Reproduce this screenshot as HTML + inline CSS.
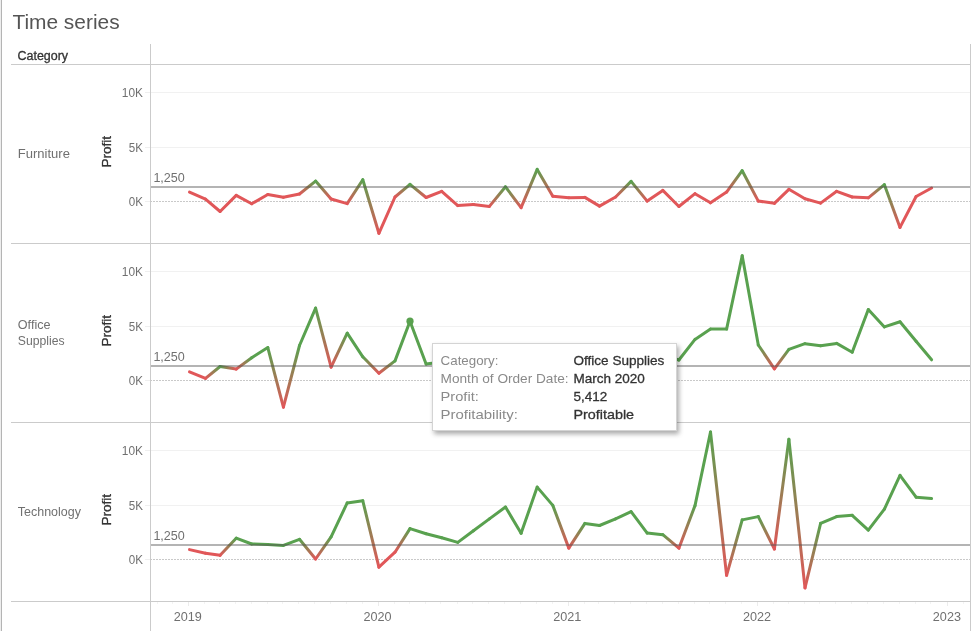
<!DOCTYPE html>
<html lang="en"><head><meta charset="utf-8"><title>Time series</title>
<style>html,body{margin:0;padding:0;background:#fff}body{width:973px;height:631px;position:relative;overflow:hidden}</style>
</head><body>
<svg width="973" height="631" viewBox="0 0 973 631" style="position:absolute;left:0;top:0;will-change:transform"><defs><linearGradient id="g1" gradientUnits="userSpaceOnUse" x1="299.5" y1="194.0" x2="315.6" y2="181.1"><stop offset="0" stop-color="#e15759"/><stop offset="1" stop-color="#59a14f"/></linearGradient><linearGradient id="g2" gradientUnits="userSpaceOnUse" x1="315.6" y1="181.1" x2="331.1" y2="199.0"><stop offset="0" stop-color="#59a14f"/><stop offset="1" stop-color="#e15759"/></linearGradient><linearGradient id="g3" gradientUnits="userSpaceOnUse" x1="347.2" y1="203.6" x2="362.8" y2="179.7"><stop offset="0" stop-color="#e15759"/><stop offset="1" stop-color="#59a14f"/></linearGradient><linearGradient id="g4" gradientUnits="userSpaceOnUse" x1="362.8" y1="179.7" x2="378.9" y2="233.3"><stop offset="0" stop-color="#59a14f"/><stop offset="1" stop-color="#e15759"/></linearGradient><linearGradient id="g5" gradientUnits="userSpaceOnUse" x1="395.0" y1="197.0" x2="410.0" y2="184.3"><stop offset="0" stop-color="#e15759"/><stop offset="1" stop-color="#59a14f"/></linearGradient><linearGradient id="g6" gradientUnits="userSpaceOnUse" x1="410.0" y1="184.3" x2="426.1" y2="197.5"><stop offset="0" stop-color="#59a14f"/><stop offset="1" stop-color="#e15759"/></linearGradient><linearGradient id="g7" gradientUnits="userSpaceOnUse" x1="489.4" y1="206.4" x2="505.5" y2="186.8"><stop offset="0" stop-color="#e15759"/><stop offset="1" stop-color="#59a14f"/></linearGradient><linearGradient id="g8" gradientUnits="userSpaceOnUse" x1="505.5" y1="186.8" x2="521.1" y2="207.7"><stop offset="0" stop-color="#59a14f"/><stop offset="1" stop-color="#e15759"/></linearGradient><linearGradient id="g9" gradientUnits="userSpaceOnUse" x1="521.1" y1="207.7" x2="537.2" y2="169.4"><stop offset="0" stop-color="#e15759"/><stop offset="1" stop-color="#59a14f"/></linearGradient><linearGradient id="g10" gradientUnits="userSpaceOnUse" x1="537.2" y1="169.4" x2="552.8" y2="196.2"><stop offset="0" stop-color="#59a14f"/><stop offset="1" stop-color="#e15759"/></linearGradient><linearGradient id="g11" gradientUnits="userSpaceOnUse" x1="615.6" y1="197.0" x2="631.1" y2="181.4"><stop offset="0" stop-color="#e15759"/><stop offset="1" stop-color="#59a14f"/></linearGradient><linearGradient id="g12" gradientUnits="userSpaceOnUse" x1="631.1" y1="181.4" x2="647.2" y2="201.1"><stop offset="0" stop-color="#59a14f"/><stop offset="1" stop-color="#e15759"/></linearGradient><linearGradient id="g13" gradientUnits="userSpaceOnUse" x1="726.6" y1="192.1" x2="742.2" y2="170.7"><stop offset="0" stop-color="#e15759"/><stop offset="1" stop-color="#59a14f"/></linearGradient><linearGradient id="g14" gradientUnits="userSpaceOnUse" x1="742.2" y1="170.7" x2="758.3" y2="201.1"><stop offset="0" stop-color="#59a14f"/><stop offset="1" stop-color="#e15759"/></linearGradient><linearGradient id="g15" gradientUnits="userSpaceOnUse" x1="868.3" y1="197.8" x2="884.4" y2="184.7"><stop offset="0" stop-color="#e15759"/><stop offset="1" stop-color="#59a14f"/></linearGradient><linearGradient id="g16" gradientUnits="userSpaceOnUse" x1="884.4" y1="184.7" x2="900.0" y2="227.4"><stop offset="0" stop-color="#59a14f"/><stop offset="1" stop-color="#e15759"/></linearGradient><linearGradient id="g17" gradientUnits="userSpaceOnUse" x1="205.5" y1="378.4" x2="220.1" y2="366.5"><stop offset="0" stop-color="#e15759"/><stop offset="1" stop-color="#59a14f"/></linearGradient><linearGradient id="g18" gradientUnits="userSpaceOnUse" x1="220.1" y1="366.5" x2="236.2" y2="369.1"><stop offset="0" stop-color="#59a14f"/><stop offset="1" stop-color="#e15759"/></linearGradient><linearGradient id="g19" gradientUnits="userSpaceOnUse" x1="236.2" y1="369.1" x2="251.7" y2="357.8"><stop offset="0" stop-color="#e15759"/><stop offset="1" stop-color="#59a14f"/></linearGradient><linearGradient id="g20" gradientUnits="userSpaceOnUse" x1="267.8" y1="347.6" x2="283.4" y2="407.2"><stop offset="0" stop-color="#59a14f"/><stop offset="1" stop-color="#e15759"/></linearGradient><linearGradient id="g21" gradientUnits="userSpaceOnUse" x1="283.4" y1="407.2" x2="299.5" y2="345.5"><stop offset="0" stop-color="#e15759"/><stop offset="1" stop-color="#59a14f"/></linearGradient><linearGradient id="g22" gradientUnits="userSpaceOnUse" x1="315.6" y1="308.1" x2="331.1" y2="367.1"><stop offset="0" stop-color="#59a14f"/><stop offset="1" stop-color="#e15759"/></linearGradient><linearGradient id="g23" gradientUnits="userSpaceOnUse" x1="331.1" y1="367.1" x2="347.2" y2="333.2"><stop offset="0" stop-color="#e15759"/><stop offset="1" stop-color="#59a14f"/></linearGradient><linearGradient id="g24" gradientUnits="userSpaceOnUse" x1="362.8" y1="356.8" x2="378.9" y2="373.2"><stop offset="0" stop-color="#59a14f"/><stop offset="1" stop-color="#e15759"/></linearGradient><linearGradient id="g25" gradientUnits="userSpaceOnUse" x1="378.9" y1="373.2" x2="395.0" y2="360.9"><stop offset="0" stop-color="#e15759"/><stop offset="1" stop-color="#59a14f"/></linearGradient><linearGradient id="g26" gradientUnits="userSpaceOnUse" x1="758.3" y1="345.0" x2="774.4" y2="368.8"><stop offset="0" stop-color="#59a14f"/><stop offset="1" stop-color="#e15759"/></linearGradient><linearGradient id="g27" gradientUnits="userSpaceOnUse" x1="774.4" y1="368.8" x2="788.9" y2="349.4"><stop offset="0" stop-color="#e15759"/><stop offset="1" stop-color="#59a14f"/></linearGradient><linearGradient id="g28" gradientUnits="userSpaceOnUse" x1="220.1" y1="555.3" x2="236.2" y2="538.2"><stop offset="0" stop-color="#e15759"/><stop offset="1" stop-color="#59a14f"/></linearGradient><linearGradient id="g29" gradientUnits="userSpaceOnUse" x1="299.5" y1="539.3" x2="315.6" y2="559.0"><stop offset="0" stop-color="#59a14f"/><stop offset="1" stop-color="#e15759"/></linearGradient><linearGradient id="g30" gradientUnits="userSpaceOnUse" x1="315.6" y1="559.0" x2="331.1" y2="536.8"><stop offset="0" stop-color="#e15759"/><stop offset="1" stop-color="#59a14f"/></linearGradient><linearGradient id="g31" gradientUnits="userSpaceOnUse" x1="362.8" y1="500.8" x2="378.9" y2="567.2"><stop offset="0" stop-color="#59a14f"/><stop offset="1" stop-color="#e15759"/></linearGradient><linearGradient id="g32" gradientUnits="userSpaceOnUse" x1="395.0" y1="552.2" x2="410.0" y2="528.6"><stop offset="0" stop-color="#e15759"/><stop offset="1" stop-color="#59a14f"/></linearGradient><linearGradient id="g33" gradientUnits="userSpaceOnUse" x1="552.8" y1="505.4" x2="568.8" y2="548.1"><stop offset="0" stop-color="#59a14f"/><stop offset="1" stop-color="#e15759"/></linearGradient><linearGradient id="g34" gradientUnits="userSpaceOnUse" x1="568.8" y1="548.1" x2="584.9" y2="523.4"><stop offset="0" stop-color="#e15759"/><stop offset="1" stop-color="#59a14f"/></linearGradient><linearGradient id="g35" gradientUnits="userSpaceOnUse" x1="662.8" y1="534.7" x2="678.9" y2="548.2"><stop offset="0" stop-color="#59a14f"/><stop offset="1" stop-color="#e15759"/></linearGradient><linearGradient id="g36" gradientUnits="userSpaceOnUse" x1="678.9" y1="548.2" x2="695.0" y2="505.6"><stop offset="0" stop-color="#e15759"/><stop offset="1" stop-color="#59a14f"/></linearGradient><linearGradient id="g37" gradientUnits="userSpaceOnUse" x1="710.5" y1="432.0" x2="726.6" y2="575.3"><stop offset="0" stop-color="#59a14f"/><stop offset="1" stop-color="#e15759"/></linearGradient><linearGradient id="g38" gradientUnits="userSpaceOnUse" x1="726.6" y1="575.3" x2="742.2" y2="519.9"><stop offset="0" stop-color="#e15759"/><stop offset="1" stop-color="#59a14f"/></linearGradient><linearGradient id="g39" gradientUnits="userSpaceOnUse" x1="758.3" y1="516.6" x2="774.4" y2="549.0"><stop offset="0" stop-color="#59a14f"/><stop offset="1" stop-color="#e15759"/></linearGradient><linearGradient id="g40" gradientUnits="userSpaceOnUse" x1="774.4" y1="549.0" x2="788.9" y2="439.3"><stop offset="0" stop-color="#e15759"/><stop offset="1" stop-color="#59a14f"/></linearGradient><linearGradient id="g41" gradientUnits="userSpaceOnUse" x1="788.9" y1="439.3" x2="805.0" y2="587.9"><stop offset="0" stop-color="#59a14f"/><stop offset="1" stop-color="#e15759"/></linearGradient><linearGradient id="g42" gradientUnits="userSpaceOnUse" x1="805.0" y1="587.9" x2="820.6" y2="523.4"><stop offset="0" stop-color="#e15759"/><stop offset="1" stop-color="#59a14f"/></linearGradient><filter id="sh" x="-10%" y="-10%" width="125%" height="130%"><feGaussianBlur in="SourceAlpha" stdDeviation="2.6"/><feOffset dx="1.5" dy="2.5"/><feComponentTransfer><feFuncA type="linear" slope="0.34"/></feComponentTransfer><feMerge><feMergeNode/><feMergeNode in="SourceGraphic"/></feMerge></filter></defs><g shape-rendering="crispEdges"><rect x="145" y="92" width="5" height="1" fill="#efefef"/><rect x="151" y="92" width="819" height="1" fill="#f1f1f1"/><rect x="145" y="147" width="5" height="1" fill="#efefef"/><rect x="151" y="147" width="819" height="1" fill="#f1f1f1"/><rect x="145" y="201" width="5" height="1" fill="#efefef"/><line x1="150" y1="201.5" x2="970" y2="201.5" stroke="#c9c9c9" stroke-width="1" stroke-dasharray="2 1"/><rect x="145" y="271" width="5" height="1" fill="#efefef"/><rect x="151" y="271" width="819" height="1" fill="#f1f1f1"/><rect x="145" y="326" width="5" height="1" fill="#efefef"/><rect x="151" y="326" width="819" height="1" fill="#f1f1f1"/><rect x="145" y="380" width="5" height="1" fill="#efefef"/><line x1="150" y1="380.5" x2="970" y2="380.5" stroke="#c9c9c9" stroke-width="1" stroke-dasharray="2 1"/><rect x="145" y="450" width="5" height="1" fill="#efefef"/><rect x="151" y="450" width="819" height="1" fill="#f1f1f1"/><rect x="145" y="505" width="5" height="1" fill="#efefef"/><rect x="151" y="505" width="819" height="1" fill="#f1f1f1"/><rect x="145" y="559" width="5" height="1" fill="#efefef"/><line x1="150" y1="559.5" x2="970" y2="559.5" stroke="#c9c9c9" stroke-width="1" stroke-dasharray="2 1"/><rect x="0" y="0" width="1" height="631" fill="#ededed"/><rect x="1" y="0" width="1" height="631" fill="#b4b4b4"/><rect x="150" y="44" width="1" height="587" fill="#cbcbcb"/><rect x="970" y="44" width="1" height="587" fill="#cbcbcb"/><rect x="11" y="64" width="959" height="1" fill="#cbcbcb"/><rect x="11" y="243" width="959" height="1" fill="#cbcbcb"/><rect x="11" y="422" width="959" height="1" fill="#cbcbcb"/><rect x="11" y="601" width="959" height="1" fill="#cbcbcb"/><rect x="157" y="602" width="1" height="2" fill="#f3f3f3"/><rect x="172" y="602" width="1" height="2" fill="#f3f3f3"/><rect x="188" y="602" width="1" height="4" fill="#ececec"/><rect x="204" y="602" width="1" height="2" fill="#f3f3f3"/><rect x="219" y="602" width="1" height="2" fill="#f3f3f3"/><rect x="235" y="602" width="1" height="2" fill="#f3f3f3"/><rect x="251" y="602" width="1" height="2" fill="#f3f3f3"/><rect x="267" y="602" width="1" height="2" fill="#f3f3f3"/><rect x="282" y="602" width="1" height="2" fill="#f3f3f3"/><rect x="298" y="602" width="1" height="2" fill="#f3f3f3"/><rect x="314" y="602" width="1" height="2" fill="#f3f3f3"/><rect x="330" y="602" width="1" height="2" fill="#f3f3f3"/><rect x="346" y="602" width="1" height="2" fill="#f3f3f3"/><rect x="362" y="602" width="1" height="2" fill="#f3f3f3"/><rect x="378" y="602" width="1" height="4" fill="#ececec"/><rect x="394" y="602" width="1" height="2" fill="#f3f3f3"/><rect x="409" y="602" width="1" height="2" fill="#f3f3f3"/><rect x="425" y="602" width="1" height="2" fill="#f3f3f3"/><rect x="440" y="602" width="1" height="2" fill="#f3f3f3"/><rect x="457" y="602" width="1" height="2" fill="#f3f3f3"/><rect x="472" y="602" width="1" height="2" fill="#f3f3f3"/><rect x="488" y="602" width="1" height="2" fill="#f3f3f3"/><rect x="504" y="602" width="1" height="2" fill="#f3f3f3"/><rect x="520" y="602" width="1" height="2" fill="#f3f3f3"/><rect x="536" y="602" width="1" height="2" fill="#f3f3f3"/><rect x="552" y="602" width="1" height="2" fill="#f3f3f3"/><rect x="568" y="602" width="1" height="4" fill="#ececec"/><rect x="584" y="602" width="1" height="2" fill="#f3f3f3"/><rect x="598" y="602" width="1" height="2" fill="#f3f3f3"/><rect x="614" y="602" width="1" height="2" fill="#f3f3f3"/><rect x="630" y="602" width="1" height="2" fill="#f3f3f3"/><rect x="646" y="602" width="1" height="2" fill="#f3f3f3"/><rect x="662" y="602" width="1" height="2" fill="#f3f3f3"/><rect x="678" y="602" width="1" height="2" fill="#f3f3f3"/><rect x="694" y="602" width="1" height="2" fill="#f3f3f3"/><rect x="709" y="602" width="1" height="2" fill="#f3f3f3"/><rect x="725" y="602" width="1" height="2" fill="#f3f3f3"/><rect x="741" y="602" width="1" height="2" fill="#f3f3f3"/><rect x="757" y="602" width="1" height="4" fill="#ececec"/><rect x="773" y="602" width="1" height="2" fill="#f3f3f3"/><rect x="788" y="602" width="1" height="2" fill="#f3f3f3"/><rect x="804" y="602" width="1" height="2" fill="#f3f3f3"/><rect x="819" y="602" width="1" height="2" fill="#f3f3f3"/><rect x="835" y="602" width="1" height="2" fill="#f3f3f3"/><rect x="851" y="602" width="1" height="2" fill="#f3f3f3"/><rect x="867" y="602" width="1" height="2" fill="#f3f3f3"/><rect x="883" y="602" width="1" height="2" fill="#f3f3f3"/><rect x="899" y="602" width="1" height="2" fill="#f3f3f3"/><rect x="915" y="602" width="1" height="2" fill="#f3f3f3"/><rect x="930" y="602" width="1" height="2" fill="#f3f3f3"/><rect x="947" y="602" width="1" height="4" fill="#ececec"/><rect x="963" y="602" width="1" height="2" fill="#f3f3f3"/></g><g fill="none" stroke-width="3" stroke-linecap="round"><path d="M189.5 192.1L205.5 199.1" stroke="#e15759"/><path d="M205.5 199.1L220.1 211.5" stroke="#e15759"/><path d="M220.1 211.5L236.2 195.4" stroke="#e15759"/><path d="M236.2 195.4L251.7 203.8" stroke="#e15759"/><path d="M251.7 203.8L267.8 194.5" stroke="#e15759"/><path d="M267.8 194.5L283.4 197.2" stroke="#e15759"/><path d="M283.4 197.2L299.5 194.0" stroke="#e15759"/><path d="M299.5 194.0L315.6 181.1" stroke="url(#g1)"/><path d="M315.6 181.1L331.1 199.0" stroke="url(#g2)"/><path d="M331.1 199.0L347.2 203.6" stroke="#e15759"/><path d="M347.2 203.6L362.8 179.7" stroke="url(#g3)"/><path d="M362.8 179.7L378.9 233.3" stroke="url(#g4)"/><path d="M378.9 233.3L395.0 197.0" stroke="#e15759"/><path d="M395.0 197.0L410.0 184.3" stroke="url(#g5)"/><path d="M410.0 184.3L426.1 197.5" stroke="url(#g6)"/><path d="M426.1 197.5L441.7 191.3" stroke="#e15759"/><path d="M441.7 191.3L457.8 205.6" stroke="#e15759"/><path d="M457.8 205.6L473.4 204.4" stroke="#e15759"/><path d="M473.4 204.4L489.4 206.4" stroke="#e15759"/><path d="M489.4 206.4L505.5 186.8" stroke="url(#g7)"/><path d="M505.5 186.8L521.1 207.7" stroke="url(#g8)"/><path d="M521.1 207.7L537.2 169.4" stroke="url(#g9)"/><path d="M537.2 169.4L552.8 196.2" stroke="url(#g10)"/><path d="M552.8 196.2L568.8 197.8" stroke="#e15759"/><path d="M568.8 197.8L584.9 197.4" stroke="#e15759"/><path d="M584.9 197.4L599.5 206.1" stroke="#e15759"/><path d="M599.5 206.1L615.6 197.0" stroke="#e15759"/><path d="M615.6 197.0L631.1 181.4" stroke="url(#g11)"/><path d="M631.1 181.4L647.2 201.1" stroke="url(#g12)"/><path d="M647.2 201.1L662.8 190.4" stroke="#e15759"/><path d="M662.8 190.4L678.9 206.5" stroke="#e15759"/><path d="M678.9 206.5L695.0 193.7" stroke="#e15759"/><path d="M695.0 193.7L710.5 202.8" stroke="#e15759"/><path d="M710.5 202.8L726.6 192.1" stroke="#e15759"/><path d="M726.6 192.1L742.2 170.7" stroke="url(#g13)"/><path d="M742.2 170.7L758.3 201.1" stroke="url(#g14)"/><path d="M758.3 201.1L774.4 203.3" stroke="#e15759"/><path d="M774.4 203.3L788.9 189.3" stroke="#e15759"/><path d="M788.9 189.3L805.0 198.7" stroke="#e15759"/><path d="M805.0 198.7L820.6 203.1" stroke="#e15759"/><path d="M820.6 203.1L836.7 191.3" stroke="#e15759"/><path d="M836.7 191.3L852.2 197.0" stroke="#e15759"/><path d="M852.2 197.0L868.3 197.8" stroke="#e15759"/><path d="M868.3 197.8L884.4 184.7" stroke="url(#g15)"/><path d="M884.4 184.7L900.0 227.4" stroke="url(#g16)"/><path d="M900.0 227.4L916.1 196.5" stroke="#e15759"/><path d="M916.1 196.5L931.6 188.0" stroke="#e15759"/><path d="M189.5 371.8L205.5 378.4" stroke="#e15759"/><path d="M205.5 378.4L220.1 366.5" stroke="url(#g17)"/><path d="M220.1 366.5L236.2 369.1" stroke="url(#g18)"/><path d="M236.2 369.1L251.7 357.8" stroke="url(#g19)"/><path d="M251.7 357.8L267.8 347.6" stroke="#59a14f"/><path d="M267.8 347.6L283.4 407.2" stroke="url(#g20)"/><path d="M283.4 407.2L299.5 345.5" stroke="url(#g21)"/><path d="M299.5 345.5L315.6 308.1" stroke="#59a14f"/><path d="M315.6 308.1L331.1 367.1" stroke="url(#g22)"/><path d="M331.1 367.1L347.2 333.2" stroke="url(#g23)"/><path d="M347.2 333.2L362.8 356.8" stroke="#59a14f"/><path d="M362.8 356.8L378.9 373.2" stroke="url(#g24)"/><path d="M378.9 373.2L395.0 360.9" stroke="url(#g25)"/><path d="M395.0 360.9L410.0 321.2" stroke="#59a14f"/><path d="M410.0 321.2L426.1 364.0" stroke="#59a14f"/><path d="M426.1 364.0L441.7 361.9" stroke="#59a14f"/><path d="M441.7 361.9L457.8 358.0" stroke="#59a14f"/><path d="M457.8 358.0L473.4 352.0" stroke="#59a14f"/><path d="M473.4 352.0L489.4 360.0" stroke="#59a14f"/><path d="M489.4 360.0L505.5 349.0" stroke="#59a14f"/><path d="M505.5 349.0L521.1 356.0" stroke="#59a14f"/><path d="M521.1 356.0L537.2 362.0" stroke="#59a14f"/><path d="M537.2 362.0L552.8 350.0" stroke="#59a14f"/><path d="M552.8 350.0L568.8 357.0" stroke="#59a14f"/><path d="M568.8 357.0L584.9 363.0" stroke="#59a14f"/><path d="M584.9 363.0L599.5 352.0" stroke="#59a14f"/><path d="M599.5 352.0L615.6 348.0" stroke="#59a14f"/><path d="M615.6 348.0L631.1 356.0" stroke="#59a14f"/><path d="M631.1 356.0L647.2 361.0" stroke="#59a14f"/><path d="M647.2 361.0L662.8 355.0" stroke="#59a14f"/><path d="M662.8 355.0L678.9 360.0" stroke="#59a14f"/><path d="M678.9 360.0L695.0 339.4" stroke="#59a14f"/><path d="M695.0 339.4L710.5 329.1" stroke="#59a14f"/><path d="M710.5 329.1L726.6 329.1" stroke="#59a14f"/><path d="M726.6 329.1L742.2 255.8" stroke="#59a14f"/><path d="M742.2 255.8L758.3 345.0" stroke="#59a14f"/><path d="M758.3 345.0L774.4 368.8" stroke="url(#g26)"/><path d="M774.4 368.8L788.9 349.4" stroke="url(#g27)"/><path d="M788.9 349.4L805.0 343.7" stroke="#59a14f"/><path d="M805.0 343.7L820.6 345.7" stroke="#59a14f"/><path d="M820.6 345.7L836.7 343.4" stroke="#59a14f"/><path d="M836.7 343.4L852.2 352.2" stroke="#59a14f"/><path d="M852.2 352.2L868.3 309.5" stroke="#59a14f"/><path d="M868.3 309.5L884.4 326.9" stroke="#59a14f"/><path d="M884.4 326.9L900.0 321.8" stroke="#59a14f"/><path d="M900.0 321.8L916.1 341.3" stroke="#59a14f"/><path d="M916.1 341.3L931.6 359.8" stroke="#59a14f"/><path d="M189.5 549.6L205.5 553.2" stroke="#e15759"/><path d="M205.5 553.2L220.1 555.3" stroke="#e15759"/><path d="M220.1 555.3L236.2 538.2" stroke="url(#g28)"/><path d="M236.2 538.2L251.7 544.0" stroke="#59a14f"/><path d="M251.7 544.0L267.8 544.4" stroke="#59a14f"/><path d="M267.8 544.4L283.4 545.4" stroke="#59a14f"/><path d="M283.4 545.4L299.5 539.3" stroke="#59a14f"/><path d="M299.5 539.3L315.6 559.0" stroke="url(#g29)"/><path d="M315.6 559.0L331.1 536.8" stroke="url(#g30)"/><path d="M331.1 536.8L347.2 502.9" stroke="#59a14f"/><path d="M347.2 502.9L362.8 500.8" stroke="#59a14f"/><path d="M362.8 500.8L378.9 567.2" stroke="url(#g31)"/><path d="M378.9 567.2L395.0 552.2" stroke="#e15759"/><path d="M395.0 552.2L410.0 528.6" stroke="url(#g32)"/><path d="M410.0 528.6L426.1 533.7" stroke="#59a14f"/><path d="M426.1 533.7L441.7 537.8" stroke="#59a14f"/><path d="M441.7 537.8L457.8 542.4" stroke="#59a14f"/><path d="M457.8 542.4L473.4 530.8" stroke="#59a14f"/><path d="M473.4 530.8L489.4 518.9" stroke="#59a14f"/><path d="M489.4 518.9L505.5 507.0" stroke="#59a14f"/><path d="M505.5 507.0L521.1 533.3" stroke="#59a14f"/><path d="M521.1 533.3L537.2 487.1" stroke="#59a14f"/><path d="M537.2 487.1L552.8 505.4" stroke="#59a14f"/><path d="M552.8 505.4L568.8 548.1" stroke="url(#g33)"/><path d="M568.8 548.1L584.9 523.4" stroke="url(#g34)"/><path d="M584.9 523.4L599.5 525.5" stroke="#59a14f"/><path d="M599.5 525.5L615.6 518.9" stroke="#59a14f"/><path d="M615.6 518.9L631.1 511.7" stroke="#59a14f"/><path d="M631.1 511.7L647.2 533.1" stroke="#59a14f"/><path d="M647.2 533.1L662.8 534.7" stroke="#59a14f"/><path d="M662.8 534.7L678.9 548.2" stroke="url(#g35)"/><path d="M678.9 548.2L695.0 505.6" stroke="url(#g36)"/><path d="M695.0 505.6L710.5 432.0" stroke="#59a14f"/><path d="M710.5 432.0L726.6 575.3" stroke="url(#g37)"/><path d="M726.6 575.3L742.2 519.9" stroke="url(#g38)"/><path d="M742.2 519.9L758.3 516.6" stroke="#59a14f"/><path d="M758.3 516.6L774.4 549.0" stroke="url(#g39)"/><path d="M774.4 549.0L788.9 439.3" stroke="url(#g40)"/><path d="M788.9 439.3L805.0 587.9" stroke="url(#g41)"/><path d="M805.0 587.9L820.6 523.4" stroke="url(#g42)"/><path d="M820.6 523.4L836.7 516.6" stroke="#59a14f"/><path d="M836.7 516.6L852.2 515.3" stroke="#59a14f"/><path d="M852.2 515.3L868.3 530.1" stroke="#59a14f"/><path d="M868.3 530.1L884.4 509.1" stroke="#59a14f"/><path d="M884.4 509.1L900.0 475.4" stroke="#59a14f"/><path d="M900.0 475.4L916.1 497.2" stroke="#59a14f"/><path d="M916.1 497.2L931.6 498.6" stroke="#59a14f"/></g><circle cx="410.0" cy="321.2" r="3.6" fill="#59a14f"/><rect x="151" y="186" width="819" height="2" fill="#555" fill-opacity="0.44" shape-rendering="crispEdges"/><rect x="151" y="365" width="819" height="2" fill="#555" fill-opacity="0.44" shape-rendering="crispEdges"/><rect x="151" y="544" width="819" height="2" fill="#555" fill-opacity="0.44" shape-rendering="crispEdges"/><g font-family="'Liberation Sans', sans-serif" font-size="12"><text x="12.4" y="29" fill="#555" textLength="107.2" lengthAdjust="spacingAndGlyphs" font-size="20">Time series</text><text x="17.5" y="60" fill="#333" textLength="50.6" lengthAdjust="spacingAndGlyphs" stroke="#333" stroke-width="0.3">Category</text><text x="17.8" y="158" fill="#707070" textLength="52.1" lengthAdjust="spacingAndGlyphs">Furniture</text><text x="17.8" y="329" fill="#707070" textLength="32.7" lengthAdjust="spacingAndGlyphs">Office</text><text x="17.8" y="345" fill="#707070" textLength="46.8" lengthAdjust="spacingAndGlyphs">Supplies</text><text x="17.8" y="515.6" fill="#707070" textLength="63.1" lengthAdjust="spacingAndGlyphs">Technology</text><text x="142.9" y="96.8" fill="#707070" textLength="21.1" lengthAdjust="spacingAndGlyphs" text-anchor="end">10K</text><text x="142.9" y="151.8" fill="#707070" textLength="14.2" lengthAdjust="spacingAndGlyphs" text-anchor="end">5K</text><text x="142.9" y="205.8" fill="#707070" textLength="14.2" lengthAdjust="spacingAndGlyphs" text-anchor="end">0K</text><text x="153.4" y="181.7" fill="#707070" textLength="31.4" lengthAdjust="spacingAndGlyphs">1,250</text><text transform="translate(111.4 151.8) rotate(-90)" text-anchor="middle" fill="#333" stroke="#333" stroke-width="0.3" textLength="31.6" lengthAdjust="spacingAndGlyphs">Profit</text><text x="142.9" y="275.8" fill="#707070" textLength="21.1" lengthAdjust="spacingAndGlyphs" text-anchor="end">10K</text><text x="142.9" y="330.8" fill="#707070" textLength="14.2" lengthAdjust="spacingAndGlyphs" text-anchor="end">5K</text><text x="142.9" y="384.8" fill="#707070" textLength="14.2" lengthAdjust="spacingAndGlyphs" text-anchor="end">0K</text><text x="153.4" y="360.7" fill="#707070" textLength="31.4" lengthAdjust="spacingAndGlyphs">1,250</text><text transform="translate(111.4 330.8) rotate(-90)" text-anchor="middle" fill="#333" stroke="#333" stroke-width="0.3" textLength="31.6" lengthAdjust="spacingAndGlyphs">Profit</text><text x="142.9" y="454.8" fill="#707070" textLength="21.1" lengthAdjust="spacingAndGlyphs" text-anchor="end">10K</text><text x="142.9" y="509.8" fill="#707070" textLength="14.2" lengthAdjust="spacingAndGlyphs" text-anchor="end">5K</text><text x="142.9" y="563.8" fill="#707070" textLength="14.2" lengthAdjust="spacingAndGlyphs" text-anchor="end">0K</text><text x="153.4" y="539.7" fill="#707070" textLength="31.4" lengthAdjust="spacingAndGlyphs">1,250</text><text transform="translate(111.4 509.8) rotate(-90)" text-anchor="middle" fill="#333" stroke="#333" stroke-width="0.3" textLength="31.6" lengthAdjust="spacingAndGlyphs">Profit</text><text x="187.7" y="621" fill="#707070" textLength="28.1" lengthAdjust="spacingAndGlyphs" text-anchor="middle">2019</text><text x="377.5" y="621" fill="#707070" textLength="28.1" lengthAdjust="spacingAndGlyphs" text-anchor="middle">2020</text><text x="567.3" y="621" fill="#707070" textLength="28.1" lengthAdjust="spacingAndGlyphs" text-anchor="middle">2021</text><text x="757.1" y="621" fill="#707070" textLength="28.1" lengthAdjust="spacingAndGlyphs" text-anchor="middle">2022</text><text x="946.9" y="621" fill="#707070" textLength="28.1" lengthAdjust="spacingAndGlyphs" text-anchor="middle">2023</text></g><g filter="url(#sh)"><rect x="432.5" y="343.5" width="244" height="87" fill="#fff" stroke="#d4d4d4" stroke-width="1"/></g><g font-family="'Liberation Sans', sans-serif" font-size="13.5"><text x="440.6" y="364.6" fill="#8a8a8a" textLength="57.8" lengthAdjust="spacingAndGlyphs">Category:</text><text x="573.5" y="364.6" fill="#333" textLength="90.9" lengthAdjust="spacingAndGlyphs" stroke="#333" stroke-width="0.3">Office Supplies</text><text x="440.6" y="382.6" fill="#8a8a8a" textLength="128.0" lengthAdjust="spacingAndGlyphs">Month of Order Date:</text><text x="573.5" y="382.6" fill="#333" textLength="71.4" lengthAdjust="spacingAndGlyphs" stroke="#333" stroke-width="0.3">March 2020</text><text x="440.6" y="400.6" fill="#8a8a8a" textLength="38.2" lengthAdjust="spacingAndGlyphs">Profit:</text><text x="573.5" y="400.6" fill="#333" textLength="33.7" lengthAdjust="spacingAndGlyphs" stroke="#333" stroke-width="0.3">5,412</text><text x="440.6" y="418.6" fill="#8a8a8a" textLength="77.2" lengthAdjust="spacingAndGlyphs">Profitability:</text><text x="573.5" y="418.6" fill="#333" textLength="60.6" lengthAdjust="spacingAndGlyphs" stroke="#333" stroke-width="0.3">Profitable</text></g></svg>
</body></html>
